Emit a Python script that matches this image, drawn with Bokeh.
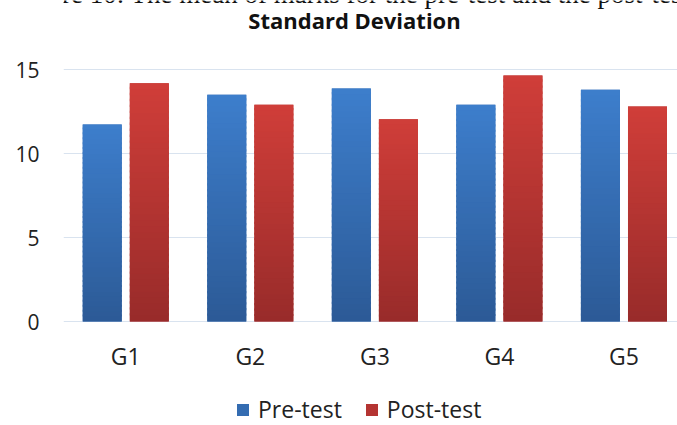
import numpy as np
from bokeh.plotting import figure
from bokeh.models import (Range1d, FixedTicker, Label, Legend, LegendItem,
                          ColumnDataSource)
from bokeh.core.properties import value
from bokeh.embed import file_html
from bokeh.resources import INLINE

# ---- data ----
groups = ["G1", "G2", "G3", "G4", "G5"]
pre_test = [11.73, 13.49, 13.87, 12.90, 13.79]
post_test = [14.18, 12.90, 12.04, 14.64, 12.80]
series_names = ["Pre-test", "Post-test"]
y_ticks = [0, 5, 10, 15]
title_text = "Standard Deviation"
caption_text = "Figure 10: The mean of marks for the pre-test and the post-test"

# ---- style / layout ----
FONT = "Open Sans"
pre_top, pre_bottom = (61, 126, 204), (44, 90, 150)
post_top, post_bottom = (208, 62, 57), (152, 43, 42)
grid_color = "#D9E3EF"
text_color = "#222222"
bar_w = 0.313
offset = 0.189
N_SLICES = 40
W, H = 677, 425
LEFT = 63          # width of the y-axis panel
ZERO_PX = 321      # pixel row of the value 0
PX_PER_UNIT = 16.8

p = figure(width=W, height=H, output_backend="svg", toolbar_location=None,
           x_axis_location=None,
           x_range=Range1d(-0.5, 4.43),
           y_range=Range1d(-(H - ZERO_PX) / PX_PER_UNIT, ZERO_PX / PX_PER_UNIT),
           min_border_left=LEFT, min_border_right=0, min_border_top=0,
           min_border_bottom=0)
p.outline_line_color = None
p.background_fill_color = "white"
p.border_fill_color = "white"

x_idx = np.arange(len(groups), dtype=float)


def hexcol(c):
    return "#%02x%02x%02x" % tuple(int(round(v)) for v in c)


def gradient_bars(xs, vals, c_top, c_bot):
    vals = np.asarray(vals, dtype=float)
    xx, bb, tt, cc = [], [], [], []
    for x, v in zip(xs, vals):
        for k in range(N_SLICES):
            f = (k + 0.5) / N_SLICES
            col = [c_bot[i] + (c_top[i] - c_bot[i]) * f for i in range(3)]
            xx.append(x)
            bb.append(v * k / N_SLICES)
            tt.append(min(v, v * (k + 1.4) / N_SLICES))
            cc.append(hexcol(col))
    src = ColumnDataSource(dict(x=xx, bottom=bb, top=tt, color=cc))
    p.vbar(x="x", bottom="bottom", top="top", width=bar_w, source=src,
           fill_color="color", line_color=None)


mid_pre = hexcol([(a + b) / 2 for a, b in zip(pre_top, pre_bottom)])
mid_post = hexcol([(a + b) / 2 for a, b in zip(post_top, post_bottom)])

r_pre = p.vbar(x=x_idx - offset, top=pre_test, width=bar_w, fill_color=mid_pre,
               line_color=None)
r_post = p.vbar(x=x_idx + offset, top=post_test, width=bar_w, fill_color=mid_post,
                line_color=None)
gradient_bars(x_idx - offset, pre_test, pre_top, pre_bottom)
gradient_bars(x_idx + offset, post_test, post_top, post_bottom)

# ---- y axis and grid ----
p.yaxis.ticker = FixedTicker(ticks=y_ticks)
p.yaxis.axis_line_color = None
p.yaxis.major_tick_line_color = None
p.yaxis.minor_tick_line_color = None
p.yaxis.major_label_standoff = 18
p.yaxis.major_label_text_font = FONT
p.yaxis.major_label_text_font_size = "21px"
p.yaxis.major_label_text_color = text_color

p.xgrid.grid_line_color = None
p.ygrid.ticker = FixedTicker(ticks=y_ticks)
p.ygrid.grid_line_color = grid_color
p.ygrid.grid_line_width = 1

# ---- category labels under the zero line ----
p.text(x=x_idx, y=np.zeros(len(groups)), text=groups, y_offset=34,
       text_font=value(FONT), text_font_size="23px", text_color=text_color,
       text_align="center", text_baseline="alphabetic")

# ---- title and (cropped) caption ----
p.add_layout(Label(x=354 - LEFT, y=H - 19, x_units="screen", y_units="screen",
                   text=title_text, text_font=FONT, text_font_size="22px",
                   text_font_style="bold", text_align="center",
                   text_baseline="alphabetic", text_color="#111111"))
p.add_layout(Label(x=12 - LEFT, y=H + 7, x_units="screen", y_units="screen",
                   text=caption_text, text_font="Liberation Serif",
                   text_font_size="27px", text_align="left",
                   text_baseline="alphabetic", text_color="#111111"))

# ---- legend ----
legend = Legend(items=[LegendItem(label=series_names[0], renderers=[r_pre]),
                       LegendItem(label=series_names[1], renderers=[r_post])],
                orientation="horizontal", location=(235 - LEFT, 0), padding=0,
                margin=0, border_line_color=None, background_fill_alpha=0,
                glyph_width=15, glyph_height=15, label_standoff=8, spacing=22,
                label_text_font=FONT, label_text_font_size="23px",
                label_text_color=text_color)
p.add_layout(legend)

open("out.html", "w").write(file_html(p, INLINE))
